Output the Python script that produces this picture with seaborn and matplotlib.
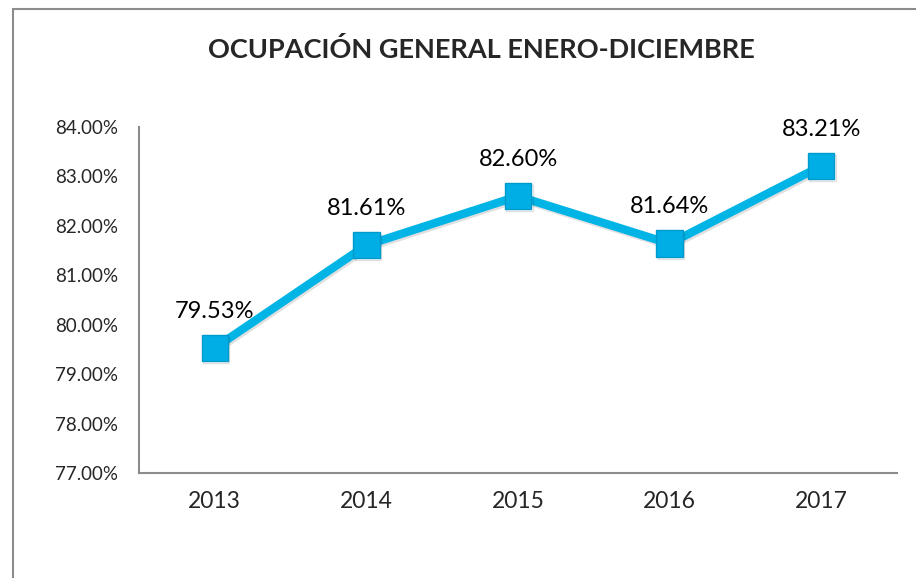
import matplotlib
matplotlib.use("Agg")
import matplotlib.pyplot as plt
import matplotlib.patheffects as pe
import seaborn as sns
import pandas as pd

# data
years = ["2013", "2014", "2015", "2016", "2017"]
ocupacion = [79.53, 81.61, 82.60, 81.64, 83.21]
y_ticks = [77, 78, 79, 80, 81, 82, 83, 84]

sns.set_style("white")
plt.rcParams['font.family'] = ['Lato', 'DejaVu Sans']

df = pd.DataFrame({'year': years, 'pct': ocupacion})
df['x'] = range(len(years))

fig = plt.figure(figsize=(9.16, 5.78), dpi=100)
ax = fig.add_axes([139 / 916, 1 - 473 / 578, (897 - 139) / 916, (473 - 127) / 578])

# outer chart frame (cropped on right and bottom in the reference)
frame = plt.Rectangle((13 / 916, -0.05), 1.0, 1 - 9 / 578 + 0.05, transform=fig.transFigure,
                      fill=False, edgecolor='#8c8c8c', linewidth=1.5, zorder=0)
fig.patches.append(frame)

sns.lineplot(data=df, x='x', y='pct', ax=ax, color='#00b4e6', linewidth=6,
             marker='s', markersize=19, markerfacecolor='#00aee6',
             markeredgecolor='#0099cc', markeredgewidth=1,
             path_effects=[pe.SimpleLineShadow(offset=(1, -1.5), alpha=0.12), pe.Normal()])

for xi, v in zip(df['x'], ocupacion):
    ax.annotate(f"{v:.2f}%", (xi, v), xytext=(0, 19), textcoords='offset points',
                ha='center', va='bottom', fontsize=17, color='black')

ax.set_xlim(-0.5, len(years) - 0.5)
ax.set_ylim(77, 84)
ax.set_xticks(df['x'])
ax.set_xticklabels(years, fontsize=16.5)
ax.set_yticks(y_ticks)
ax.set_yticklabels([f"{t:.2f}%" for t in y_ticks], fontsize=13.5)
ax.tick_params(axis='y', length=0, pad=15)
ax.tick_params(axis='x', length=0, pad=13)
ax.set_xlabel('')
ax.set_ylabel('')

for side in ['top', 'right']:
    ax.spines[side].set_visible(False)
for side in ['left', 'bottom']:
    ax.spines[side].set_color('#8c8c8c')
    ax.spines[side].set_linewidth(1.5)

fig.text(481 / 916, 1 - 50 / 578, "OCUPACIÓN GENERAL ENERO-DICIEMBRE", ha='center', va='center',
         fontsize=19.5, fontweight='bold')

fig.savefig("out.png", dpi=100)
